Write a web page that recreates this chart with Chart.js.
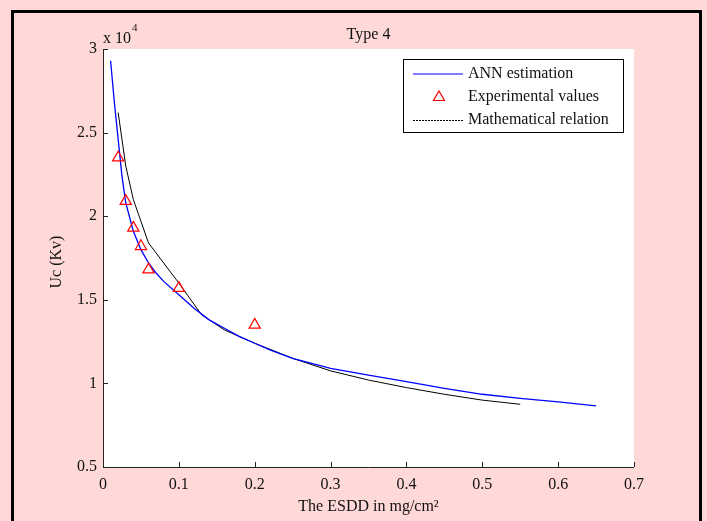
<!DOCTYPE html>
<html>
<head>
<meta charset="utf-8">
<script src="https://cdn.jsdelivr.net/npm/chart.js@4/dist/chart.umd.min.js"></script>
<style>
  html, body { margin: 0; padding: 0; background: #FFD8D8; }
  #wrap { width: 707px; height: 521px; }
</style>
</head>
<body>
<div id="wrap"><canvas id="chart" width="707" height="521"></canvas></div>
<script>
// Données (Uc en x10^4 Kv)
const annX = [0.01, 0.015, 0.02, 0.025, 0.03, 0.04, 0.05, 0.06, 0.07, 0.08, 0.1, 0.12, 0.14, 0.16, 0.18, 0.2, 0.22, 0.25, 0.3, 0.35, 0.4, 0.45, 0.5, 0.55, 0.6, 0.65];
const annY = [2.93, 2.68, 2.46, 2.24, 2.08, 1.91, 1.80, 1.72, 1.66, 1.61, 1.53, 1.45, 1.38, 1.33, 1.28, 1.24, 1.20, 1.15, 1.09, 1.05, 1.01, 0.97, 0.935, 0.91, 0.89, 0.865];

const expX = [0.02, 0.03, 0.04, 0.05, 0.06, 0.1, 0.2];
const expY = [2.35, 2.09, 1.93, 1.82, 1.68, 1.57, 1.35];

const mathX = [0.02, 0.03, 0.04, 0.06, 0.1, 0.13, 0.16, 0.2, 0.25, 0.3, 0.35, 0.4, 0.45, 0.5, 0.55];
const mathY = [2.62, 2.30, 2.10, 1.84, 1.60, 1.41, 1.32, 1.24, 1.15, 1.075, 1.02, 0.975, 0.935, 0.90, 0.875];

const xTicks = [0, 0.1, 0.2, 0.3, 0.4, 0.5, 0.6, 0.7];
const yTicks = [0.5, 1, 1.5, 2, 2.5, 3];

const seriesLabels = ["ANN estimation", "Experimental values", "Mathematical relation"];

const font = "Liberation Serif";
const toPts = (xs, ys) => xs.map((x, i) => ({ x: x, y: ys[i] }));

// Fond, cadre, ticks intérieurs, textes et légende
const decor = {
  id: "decor",
  beforeDraw(chart) {
    const ctx = chart.ctx;
    const a = chart.chartArea;
    ctx.save();
    ctx.fillStyle = "#FFD8D8";
    ctx.fillRect(0, 0, chart.width, chart.height);
    ctx.fillStyle = "#ffffff";
    ctx.fillRect(a.left, a.top, a.right - a.left, a.bottom - a.top);
    ctx.strokeStyle = "#000";
    ctx.lineWidth = 3;
    ctx.beginPath();
    ctx.moveTo(12.5, chart.height);
    ctx.lineTo(12.5, 11.5);
    ctx.lineTo(700.5, 11.5);
    ctx.lineTo(700.5, chart.height);
    ctx.stroke();
    ctx.restore();
  },
  afterDraw(chart) {
    const ctx = chart.ctx;
    const a = chart.chartArea;
    const xs = chart.scales.x, ys = chart.scales.y;
    ctx.save();
    // axes
    ctx.strokeStyle = "#222";
    ctx.lineWidth = 1;
    ctx.beginPath();
    ctx.moveTo(a.left + 0.5, a.top);
    ctx.lineTo(a.left + 0.5, a.bottom + 0.5);
    ctx.lineTo(a.right, a.bottom + 0.5);
    xTicks.forEach((t) => {
      const px = Math.round(xs.getPixelForValue(t)) + 0.5;
      ctx.moveTo(px, a.bottom);
      ctx.lineTo(px, a.bottom - 5);
    });
    yTicks.forEach((t) => {
      const py = Math.round(ys.getPixelForValue(t)) + 0.5;
      ctx.moveTo(a.left, py);
      ctx.lineTo(a.left + 5, py);
    });
    ctx.stroke();

    // textes
    ctx.fillStyle = "#111";
    ctx.font = "16px '" + font + "'";
    ctx.textAlign = "center";
    ctx.textBaseline = "middle";
    ctx.fillText("Type 4", (a.left + a.right) / 2, 35);
    ctx.fillText("The ESDD in mg/cm\u00B2", (a.left + a.right) / 2, 507);
    ctx.save();
    ctx.translate(57, 262);
    ctx.rotate(-Math.PI / 2);
    ctx.fillText("Uc (Kv)", 0, 0);
    ctx.restore();
    ctx.textAlign = "left";
    ctx.fillText("x 10", a.left, 39);
    const w = ctx.measureText("x 10").width;
    ctx.font = "11px '" + font + "'";
    ctx.fillText("4", a.left + w + 1, 28);

    // légende
    const lx = 403.5, ly = 59.5, lw = 220, lh = 73;
    ctx.fillStyle = "#fff";
    ctx.fillRect(lx, ly, lw, lh);
    ctx.strokeStyle = "#000";
    ctx.lineWidth = 1;
    ctx.strokeRect(lx, ly, lw, lh);
    const rows = [74, 97, 120];
    // ANN
    ctx.strokeStyle = "#0000ff";
    ctx.lineWidth = 1.2;
    ctx.beginPath();
    ctx.moveTo(413, rows[0]);
    ctx.lineTo(463, rows[0]);
    ctx.stroke();
    // triangle
    ctx.strokeStyle = "#ff0000";
    ctx.lineWidth = 1.2;
    ctx.beginPath();
    ctx.moveTo(439, rows[1] - 6);
    ctx.lineTo(444.5, rows[1] + 3.5);
    ctx.lineTo(433.5, rows[1] + 3.5);
    ctx.closePath();
    ctx.stroke();
    // math
    ctx.strokeStyle = "#000";
    ctx.lineWidth = 1;
    ctx.setLineDash([2, 1]);
    ctx.beginPath();
    ctx.moveTo(413, rows[2] + 0.5);
    ctx.lineTo(463, rows[2] + 0.5);
    ctx.stroke();
    ctx.setLineDash([]);
    ctx.fillStyle = "#111";
    ctx.font = "16px '" + font + "'";
    ctx.textAlign = "left";
    ctx.textBaseline = "middle";
    seriesLabels.forEach((s, i) => ctx.fillText(s, 468, rows[i]));
    ctx.restore();
  },
};

new Chart(document.getElementById("chart"), {
  type: "scatter",
  data: {
    datasets: [
      {
        label: seriesLabels[0],
        data: toPts(annX, annY),
        showLine: true,
        borderColor: "#0000ff",
        borderWidth: 1.3,
        pointRadius: 0,
        tension: 0,
        order: 2,
      },
      {
        label: seriesLabels[1],
        data: toPts(expX, expY),
        showLine: false,
        pointStyle: "triangle",
        pointRadius: 6.5,
        borderColor: "#ff0000",
        backgroundColor: "rgba(0,0,0,0)",
        borderWidth: 1.2,
        order: 1,
      },
      {
        label: seriesLabels[2],
        data: toPts(mathX, mathY),
        showLine: true,
        borderColor: "#000000",
        borderWidth: 1,
        pointRadius: 0,
        tension: 0,
        order: 3,
      },
    ],
  },
  options: {
    responsive: false,
    animation: false,
    layout: { padding: { left: 0, top: 49, right: 73, bottom: 0 } },
    plugins: {
      legend: { display: false },
      tooltip: { enabled: false },
    },
    scales: {
      x: {
        type: "linear",
        min: 0,
        max: 0.7,
        afterBuildTicks: (s) => { s.ticks = xTicks.map((v) => ({ value: v })); },
        afterFit: (s) => { s.height = 54; },
        grid: { display: false },
        border: { display: false },
        ticks: {
          padding: 0,
          color: "#111",
          font: { family: font, size: 16 },
          callback: (v) => String(v),
        },
      },
      y: {
        type: "linear",
        min: 0.5,
        max: 3,
        afterBuildTicks: (s) => { s.ticks = yTicks.map((v) => ({ value: v })); },
        afterFit: (s) => { s.width = 103; },
        grid: { display: false },
        border: { display: false },
        ticks: {
          padding: -2,
          color: "#111",
          font: { family: font, size: 16 },
          callback: (v) => String(v),
        },
      },
    },
  },
  plugins: [decor],
});
</script>
</body>
</html>
